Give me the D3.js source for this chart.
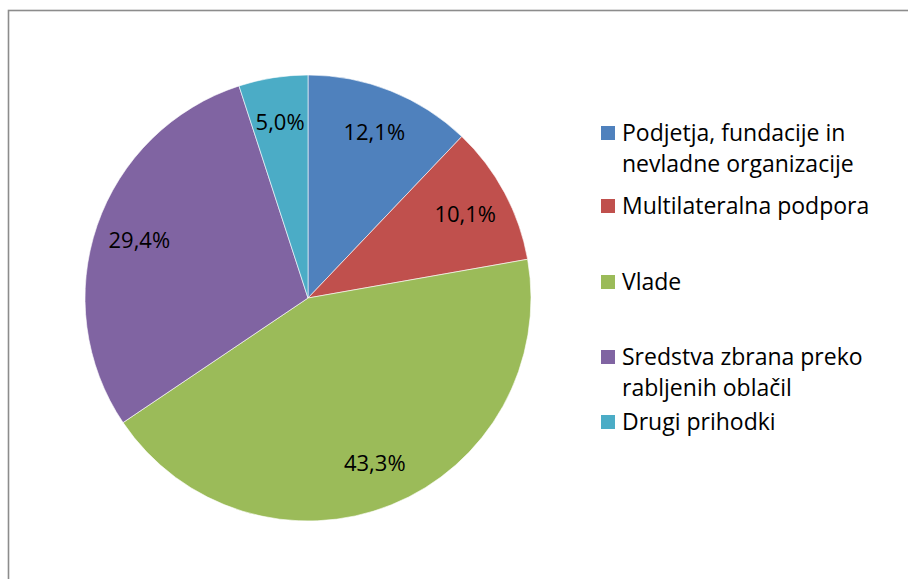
<!DOCTYPE html>
<html>
<head>
<meta charset="utf-8">
<script src="https://cdn.jsdelivr.net/npm/d3@7"></script>
<style>
  html, body { margin: 0; padding: 0; background: #fff; }
  svg { display: block; }
  text { font-family: "Open Sans", Lato, sans-serif; fill: #000; }
</style>
</head>
<body>
<svg id="chart" width="908" height="579"></svg>
<script>
const categories = [
  "Podjetja, fundacije in nevladne organizacije",
  "Multilateralna podpora",
  "Vlade",
  "Sredstva zbrana preko rabljenih oblačil",
  "Drugi prihodki"
];
const legendLines = [
  ["Podjetja, fundacije in", "nevladne organizacije"],
  ["Multilateralna podpora"],
  ["Vlade"],
  ["Sredstva zbrana preko", "rabljenih oblačil"],
  ["Drugi prihodki"]
];
const values = [12.1, 10.1, 43.3, 29.4, 5.0];
const colors = ["#4F81BD", "#C0504D", "#9BBB59", "#8064A2", "#4BACC6"];

const W = 908, H = 579;
const svg = d3.select("#chart");

// outer chart frame (partially visible)
svg.append("rect")
  .attr("x", 8.5).attr("y", 10.5)
  .attr("width", 1200).attr("height", 1200)
  .attr("fill", "#fff")
  .attr("stroke", "#8c8c8c")
  .attr("stroke-width", 1.6);

const cx = 308, cy = 298, R = 223;
const g = svg.append("g").attr("transform", `translate(${cx},${cy})`);

const pie = d3.pie().sort(null).value(d => d)
  .startAngle(0).endAngle(2 * Math.PI * d3.sum(values) / 99.9);
const arcs = pie(values);
const arc = d3.arc().innerRadius(0).outerRadius(R);
const labelArc = d3.arc().innerRadius(R * 0.8).outerRadius(R * 0.8);

g.selectAll("path.slice")
  .data(arcs)
  .enter().append("path")
  .attr("class", "slice")
  .attr("d", arc)
  .attr("fill", (d, i) => colors[i])
  .attr("stroke", "#ffffff")
  .attr("stroke-width", 0.6);

const fmt = v => d3.format(".1f")(v).replace(".", ",") + "%";

g.selectAll("text.lbl")
  .data(arcs)
  .enter().append("text")
  .attr("class", "lbl")
  .attr("transform", d => `translate(${labelArc.centroid(d)})`)
  .attr("text-anchor", "middle")
  .attr("dy", "0.36em")
  .style("font-size", "22px")
  .text(d => fmt(d.data));

// legend
const legendTops = [141, 214, 290, 365, 430]; // first baseline of each entry
const lineH = 31;
const lg = svg.append("g");
legendLines.forEach((lines, i) => {
  const b = legendTops[i];
  lg.append("rect")
    .attr("x", 601).attr("y", b - 15)
    .attr("width", 14).attr("height", 14)
    .attr("fill", colors[i]);
  const t = lg.append("text")
    .attr("x", 622).attr("y", b)
    .style("font-size", "23px");
  lines.forEach((ln, j) => {
    t.append("tspan").attr("x", 622).attr("y", b + j * lineH).text(ln);
  });
});
</script>
</body>
</html>
